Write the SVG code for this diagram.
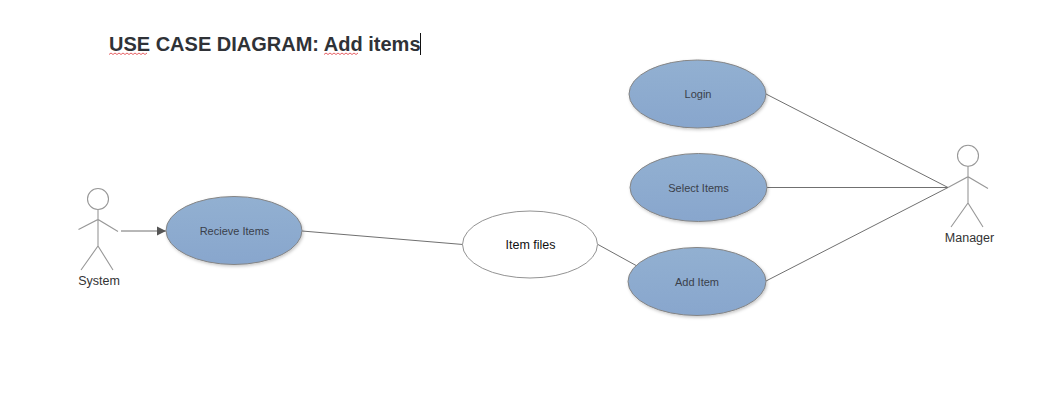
<svg xmlns="http://www.w3.org/2000/svg" width="1057" height="414" viewBox="0 0 1057 414">
<style>
text{font-family:"Liberation Sans",Arial,sans-serif;text-anchor:middle}
.uc{fill:url(#blue);stroke:#858585;stroke-width:1;filter:url(#sh)}
.ucl{font-size:11px;fill:#3a3f4a}
.act{fill:none;stroke:#989898;stroke-width:1.1}
.lbl{font-size:12.500px;fill:#333}
.con{fill:none;stroke:#707070;stroke-width:1}
.sp{fill:none;stroke:#e0393e;stroke-width:.8}
</style>
<defs>
<linearGradient id="blue" x1="0" y1="0" x2="0" y2="1"><stop offset="0" stop-color="#92b0d1"/><stop offset="1" stop-color="#88a6cd"/></linearGradient>
<filter id="sh" x="-10%" y="-15%" width="125%" height="135%"><feDropShadow dx="1" dy="1.500" stdDeviation="1.500" flood-color="#000" flood-opacity=".22"/></filter>
<marker id="arr" markerUnits="userSpaceOnUse" markerWidth="10" markerHeight="10" refX="9" refY="5" orient="auto"><path d="M0 .5L9 5L0 9.500Z" fill="#555"/></marker>
</defs>
<rect width="1057" height="414" fill="#fff"/>
<g id="title">
<text x="109" y="51" style="text-anchor:start;font-size:20px;font-weight:bold;fill:#2f3237">USE CASE DIAGRAM: Add items</text>
<path class="sp" d="M109 54.500l2-1.500 2 1.500 2-1.500 2 1.500 2-1.500 2 1.500 2-1.500 2 1.500 2-1.500 2 1.500 2-1.500 2 1.500 2-1.500 2 1.500 2-1.500 2 1.500 2-1.500 2 1.500 2-1.500"/>
<path class="sp" d="M324 54.500l2-1.500 2 1.500 2-1.500 2 1.500 2-1.500 2 1.500 2-1.500 2 1.500 2-1.500 2 1.500 2-1.500 2 1.500 2-1.500 2 1.500 2-1.500 2 1.500 2-1.500"/>
<path d="M420.500 33V55" stroke="#111" stroke-width="1"/>
</g>
<g id="connectors">
<path class="con" d="M121 231H166" marker-end="url(#arr)"/>
<path class="con" d="M302 231L463 244.500"/>
<path class="con" d="M598 244.500L637 266"/>
<path class="con" d="M766 94L948 187.500"/>
<path class="con" d="M767 187.500H948"/>
<path class="con" d="M766 281L948 187.500"/>
</g>
<g id="system">
<circle class="act" cx="98" cy="199" r="10.500"/>
<path class="act" d="M98 209.500V246M78.500 229.500L98 219.500L118 231.500M81 270L98 246L113 270"/>
<text class="lbl" x="99" y="285">System</text>
</g>
<g id="recieve-items">
<ellipse class="uc" cx="234" cy="230.500" rx="68" ry="34"/>
<text class="ucl" x="234.500" y="235">Recieve Items</text>
</g>
<g id="item-files">
<ellipse cx="530" cy="244.500" rx="67.500" ry="33.500" fill="#fff" stroke="#939393"/>
<text x="530.500" y="249" style="font-size:12.500px;fill:#111">Item files</text>
</g>
<g id="login">
<ellipse class="uc" cx="697.500" cy="94" rx="68.500" ry="34"/>
<text class="ucl" x="698" y="98">Login</text>
</g>
<g id="select-items">
<ellipse class="uc" cx="698.500" cy="187.500" rx="68.500" ry="34"/>
<text class="ucl" x="698.500" y="192">Select Items</text>
</g>
<g id="add-item">
<ellipse class="uc" cx="697" cy="281.500" rx="69" ry="34"/>
<text class="ucl" x="697" y="286">Add Item</text>
</g>
<g id="manager">
<circle class="act" cx="968" cy="155.700" r="10.500"/>
<path class="act" d="M968 166V203M948 187.500L968 176.700L988 188.500M951 227L968 203L983 227"/>
<text class="lbl" x="969.500" y="242">Manager</text>
</g>
</svg>
